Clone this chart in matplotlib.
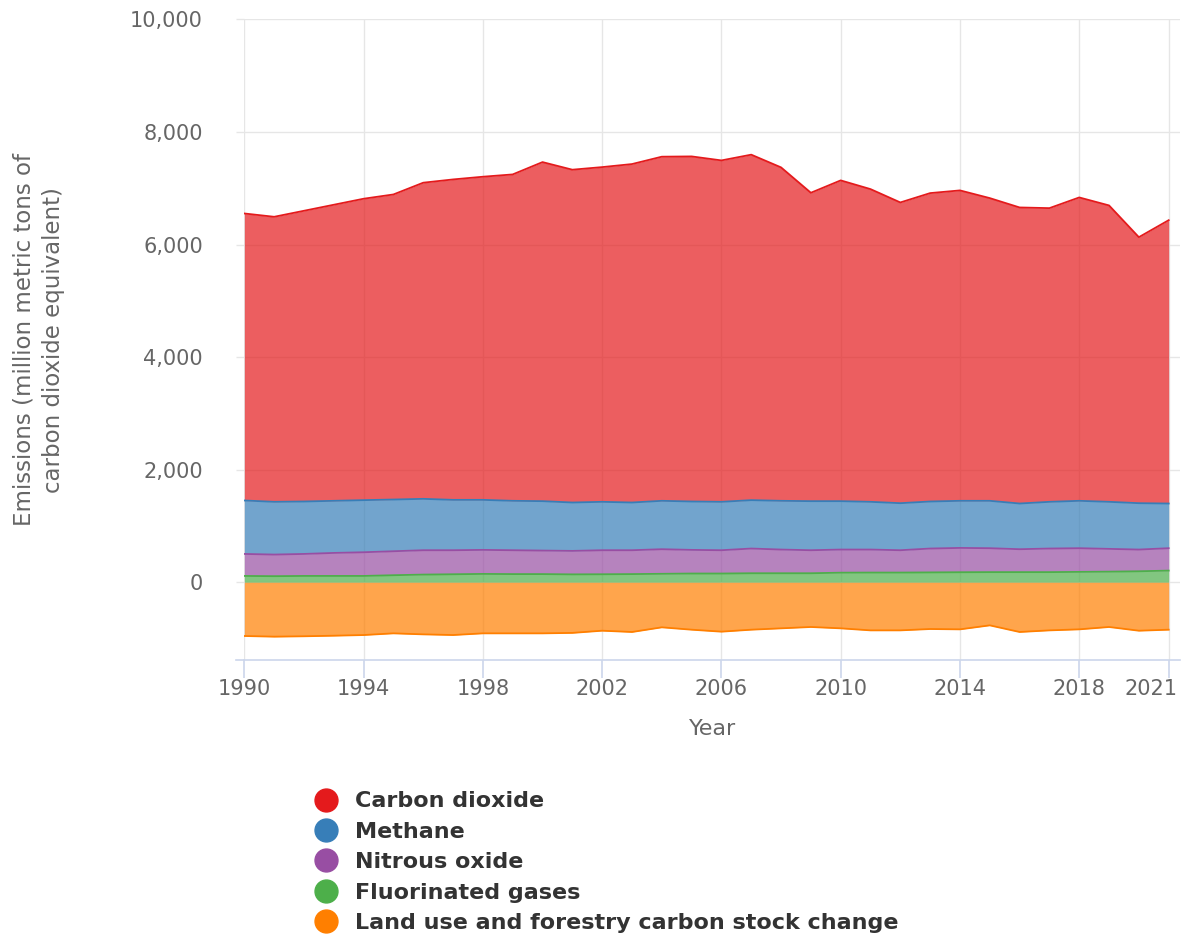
import numpy as np
import matplotlib.pyplot as plt
import matplotlib.transforms as mtransforms
from matplotlib.lines import Line2D
from matplotlib.ticker import FuncFormatter

# US greenhouse gas emissions by gas (million metric tons CO2 eq.)
years = list(range(1990, 2022))

co2 = [5100, 5065, 5166, 5261, 5356, 5421, 5618, 5694, 5742, 5800, 6025, 5914,
       5948, 6014, 6115, 6132, 6067, 6139, 5925, 5480, 5700, 5557, 5344, 5480,
       5516, 5379, 5261, 5219, 5391, 5267, 4727, 5035]
methane = [950, 937, 932, 926, 926, 919, 913, 895, 889, 878, 878, 860,
           860, 848, 860, 860, 860, 860, 866, 872, 860, 848, 836, 836,
           837, 842, 812, 830, 842, 836, 824, 794]
n2o = [391, 384, 391, 409, 421, 426, 433, 427, 427, 424, 418, 417,
       427, 424, 437, 420, 414, 439, 421, 409, 411, 409, 397, 424,
       432, 425, 407, 419, 421, 405, 386, 398]
fgas = [112, 108, 112, 112, 112, 125, 136, 142, 148, 145, 145, 140,
        142, 145, 150, 155, 155, 160, 160, 160, 170, 172, 172, 175,
        178, 180, 180, 180, 184, 188, 195, 207]
land_use = [-955, -967, -960, -950, -938, -908, -926, -938, -908, -908, -908, -900,
            -861, -884, -801, -843, -878, -843, -819, -795, -819, -855, -855, -831,
            -837, -766, -884, -855, -837, -795, -861, -843]

labels = ['Carbon dioxide', 'Methane', 'Nitrous oxide', 'Fluorinated gases',
          'Land use and forestry carbon stock change']
colors = ['#e41a1c', '#377eb8', '#984ea3', '#4daf4a', '#ff7f00']
x_ticks = [1990, 1994, 1998, 2002, 2006, 2010, 2014, 2018, 2021]

fig = plt.figure(figsize=(11.85, 9.42), dpi=100)
ax = fig.add_axes([0.2062, 0.2994, 0.7896, 0.6799])

# positive stack, bottom to top: F-gases, N2O, methane, CO2
x = np.array(years)
base = np.zeros(len(years))
stack = [(fgas, colors[3]), (n2o, colors[2]), (methane, colors[1]), (co2, colors[0])]
for vals, c in stack:
    top = base + np.array(vals)
    ax.fill_between(x, base, top, color=c, alpha=0.7, lw=0, zorder=2)
    ax.plot(x, top, color=c, lw=1.3, zorder=3)
    base = top

# negative stack
lu = np.array(land_use)
ax.fill_between(x, 0, lu, color=colors[4], alpha=0.7, lw=0, zorder=2)
ax.plot(x, lu, color=colors[4], lw=1.3, zorder=3)

ax.set_xlim(1990, 2021.38)
ax.set_ylim(-1381, 10000)
ax.set_xticks(x_ticks)
ax.set_yticks(range(0, 10001, 2000))
ax.yaxis.set_major_formatter(FuncFormatter(lambda v, p: f'{int(v):,}'))

ax.grid(True, color='#e6e6e6', lw=1, zorder=0)
ax.set_axisbelow(True)
for s in ['top', 'right', 'left']:
    ax.spines[s].set_visible(False)
ax.spines['bottom'].set_color('#ccd6eb')
ax.spines['bottom'].set_linewidth(1.2)
ax.plot([-0.009, 0], [0, 0], transform=ax.transAxes, color='#ccd6eb',
        lw=1.2, clip_on=False)

ax.tick_params(axis='x', length=13, color='#ccd6eb', width=1.2, pad=1,
               labelsize=15, labelcolor='#666666')
ax.tick_params(axis='y', length=5.8, color='#e6e6e6', width=1, pad=24,
               labelsize=15, labelcolor='#666666')

# last year label is pulled inside the chart, like the original
last = ax.get_xticklabels()[-1]
last.set_horizontalalignment('right')
last.set_transform(last.get_transform() +
                   mtransforms.ScaledTranslation(9 / 100, 0, fig.dpi_scale_trans))

ax.set_xlabel('Year', fontsize=16, color='#666666', labelpad=14)
ax.set_ylabel('Emissions (million metric tons of\ncarbon dioxide equivalent)',
              fontsize=16.5, color='#666666', labelpad=47, linespacing=1.35)

handles = [Line2D([], [], marker='o', ls='', color=c, markersize=16.5) for c in colors]
fig.legend(handles, labels, loc='upper left', bbox_to_anchor=(0.266, 0.160),
           frameon=False, prop={'size': 16, 'weight': 'bold'},
           labelcolor='#333333', handletextpad=0.8, labelspacing=0.47,
           borderpad=0, handlelength=1.0, borderaxespad=0)

fig.savefig('out.png', dpi=100)
